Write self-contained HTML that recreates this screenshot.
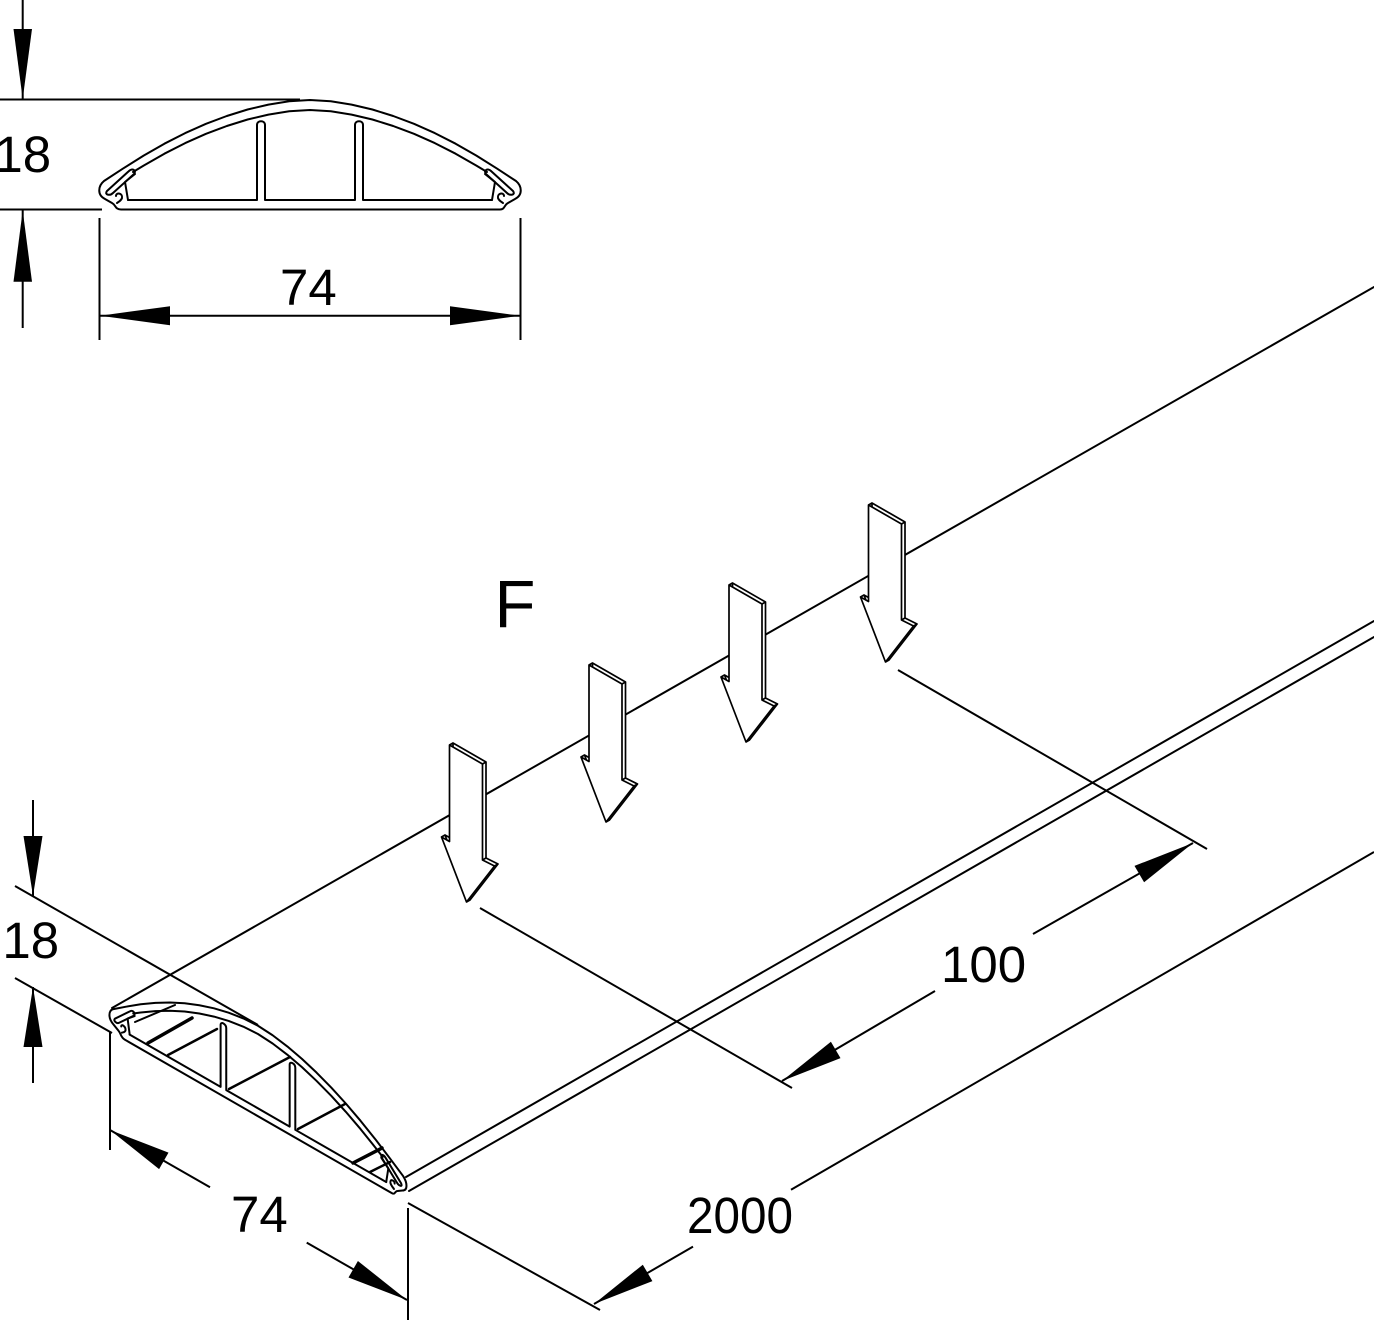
<!DOCTYPE html>
<html>
<head>
<meta charset="utf-8">
<style>
html,body{margin:0;padding:0;background:#fff;width:1374px;height:1320px;overflow:hidden}
svg{display:block}
.iso *{vector-effect:non-scaling-stroke}
text{font-family:"Liberation Sans",Arial,sans-serif;fill:#000}
</style>
</head>
<body>
<svg width="1374" height="1320" viewBox="0 0 1374 1320" xmlns="http://www.w3.org/2000/svg">
<rect width="1374" height="1320" fill="#fff"/>

<!-- ===== TOP PROFILE ===== -->
<g fill="none" stroke="#000" stroke-width="2" stroke-linejoin="round" stroke-linecap="round">
  <path d="M121,209.5 L500,209.5 C505,209.5 504,205 508,203 L515,199 C523,195 522,186 516,181 L497.2,168.7 L476.4,155.6 L455.6,143.7 L434.8,133.1 L414,123.8 L393.2,116 L372.4,109.5 L351.6,104.6 L330.8,101.3 L310,100 L289.2,101.3 L268.4,104.6 L247.6,109.5 L226.8,116 L206,123.8 L185.2,133.1 L164.4,143.7 L143.6,155.6 L122.8,168.7 L104,181 C98,186 97,195 105,199 L112,203 C116,205 115,209.5 121,209.5 Z"/>
  <polyline points="133,172 143.6,165.6 164.4,153.7 185.2,143.1 206,133.8 226.8,126 247.6,119.5 268.4,114.6 289.2,111.3 310,110 330.8,111.3 351.6,114.6 372.4,119.5 393.2,126 414,133.8 434.8,143.1 455.6,153.7 476.4,165.6 487,172"/>
  <path d="M107,191 L129,171 C132,168 137,170 134,174 L113,193 C110,196 104,195 107,191 Z"/>
  <path d="M513,191 L491,171 C488,168 483,170 486,174 L507,193 C510,196 516,195 513,191 Z"/>
  <path d="M116,196 C116,192 123,193 122,198 C121,201 118,202 117,203"/>
  <path d="M504,196 C504,192 497,193 498,198 C499,201 502,202 503,203"/>
  <path d="M135,174 L125,182 L128,200"/>
  <path d="M485,174 L495,182 L492,200"/>
  <path d="M128,200 L257,200 L257,125 C257,120 265,120 265,125 L265,200 L355,200 L355,125 C355,120 363,120 363,125 L363,200 L492,200"/>
</g>

<!-- top dims -->
<g stroke="#000" stroke-width="2" fill="none">
  <line x1="22.7" y1="0" x2="22.7" y2="99"/>
  <line x1="22.7" y1="210" x2="22.7" y2="328"/>
  <line x1="0" y1="99.5" x2="300" y2="99.5"/>
  <line x1="0" y1="209.5" x2="102" y2="209.5"/>
  <line x1="99.5" y1="218" x2="99.5" y2="340"/>
  <line x1="520.5" y1="218" x2="520.5" y2="340"/>
  <line x1="100" y1="315.7" x2="520" y2="315.7"/>
</g>
<g fill="#000">
  <polygon points="22.7,99 13.5,29 32,29"/>
  <polygon points="22.7,210.5 13.5,281.7 32,281.7"/>
  <polygon points="100,315.7 170,306.2 170,325.2"/>
  <polygon points="520,315.7 450,306.2 450,325.2"/>
</g>
<text x="-5.6" y="172" font-size="51">18</text>
<text x="280" y="305" font-size="51">74</text>

<!-- ===== BODY LINES ===== -->
<g stroke="#000" stroke-width="2" fill="none" stroke-linecap="round">
  <line x1="112" y1="1008" x2="1374" y2="287"/>
  <line x1="406" y1="1177" x2="1374" y2="621"/>
  <line x1="409" y1="1191" x2="1374" y2="637"/>
</g>

<!-- ===== ISO PROFILE ===== -->
<g class="iso" transform="matrix(0.7047,0.405,0,0.826,39.5,817.6)" fill="none" stroke="#000" stroke-width="2" stroke-linejoin="round" stroke-linecap="round">
  <path d="M121,209.5 L500,209.5 C505,209.5 504,205 508,203 L515,199 C523,195 522,186 516,181 L497.2,168.7 L476.4,155.6 L455.6,143.7 L434.8,133.1 L414,123.8 L393.2,116 L372.4,109.5 L351.6,104.6 L330.8,101.3 L310,100 L289.2,101.3 L268.4,104.6 L247.6,109.5 L226.8,116 L206,123.8 L185.2,133.1 L164.4,143.7 L143.6,155.6 L122.8,168.7 L104,181 C98,186 97,195 105,199 L112,203 C116,205 115,209.5 121,209.5 Z"/>
  <polyline points="133,172 143.6,165.6 164.4,153.7 185.2,143.1 206,133.8 226.8,126 247.6,119.5 268.4,114.6 289.2,111.3 310,110 330.8,111.3 351.6,114.6 372.4,119.5 393.2,126 414,133.8 434.8,143.1 455.6,153.7 476.4,165.6 487,172"/>
  <path d="M107,191 L129,171 C132,168 137,170 134,174 L113,193 C110,196 104,195 107,191 Z"/>
  <path d="M513,191 L491,171 C488,168 483,170 486,174 L507,193 C510,196 516,195 513,191 Z"/>
  <path d="M116,196 C116,192 123,193 122,198 C121,201 118,202 117,203"/>
  <path d="M504,196 C504,192 497,193 498,198 C499,201 502,202 503,203"/>
  <path d="M135,174 L125,182 L128,200"/>
  <path d="M485,174 L495,182 L492,200"/>
  <path d="M128,200 L257,200 L257,125 C257,120 265,120 265,125 L265,200 L355,200 L355,125 C355,120 363,120 363,125 L363,200 L492,200"/>
</g>
<!-- iso depth lines -->
<g stroke="#000" fill="none" stroke-linecap="round">
  <line x1="148" y1="1043" x2="192" y2="1018" stroke-width="3.5"/>
  <line x1="168" y1="1055" x2="217" y2="1029" stroke-width="2.5"/>
  <line x1="135" y1="1022" x2="175" y2="1005" stroke-width="2"/>
  <line x1="229" y1="1089" x2="290" y2="1057" stroke-width="2.5"/>
  <line x1="298" y1="1129" x2="345" y2="1104" stroke-width="2.5"/>
  <line x1="353" y1="1163" x2="382" y2="1148" stroke-width="3.5"/>
  <line x1="370" y1="1172" x2="390" y2="1162" stroke-width="2.5"/>
</g>

<!-- iso dims -->
<g stroke="#000" stroke-width="2" fill="none">
  <line x1="33" y1="800" x2="33" y2="896"/>
  <line x1="33" y1="987" x2="33" y2="1083"/>
  <line x1="15" y1="886" x2="258" y2="1025"/>
  <line x1="15" y1="978" x2="112" y2="1033"/>
  <line x1="110" y1="1032" x2="110" y2="1150"/>
  <line x1="408" y1="1208" x2="408" y2="1320"/>
  <line x1="110" y1="1130" x2="210" y2="1187.2"/>
  <line x1="306.7" y1="1242.6" x2="407" y2="1300"/>
  <!-- 100 -->
  <line x1="480" y1="908" x2="792" y2="1088"/>
  <line x1="898" y1="670" x2="1207" y2="849"/>
  <line x1="782" y1="1081" x2="935" y2="991"/>
  <line x1="1033" y1="934" x2="1193" y2="843"/>
  <!-- 2000 -->
  <line x1="408" y1="1203" x2="600" y2="1310"/>
  <line x1="594" y1="1304" x2="693" y2="1246.6"/>
  <line x1="791" y1="1189.8" x2="1374" y2="852"/>
</g>
<g fill="#000">
  <polygon points="33,896 23.5,836 42.5,836"/>
  <polygon points="33,987 23.5,1047 42.5,1047"/>
  <polygon points="110,1130 159.1,1169.1 168.5,1152.6"/>
  <polygon points="407,1300 348.5,1277.5 357.9,1261"/>
  <polygon points="782,1081 840.5,1058.1 830.9,1041.7"/>
  <polygon points="1193,843 1144.1,882.3 1134.5,865.9"/>
  <polygon points="594,1304 652.4,1281.1 642.8,1264.7"/>
</g>
<text x="2.4" y="958" font-size="51">18</text>
<text x="231" y="1232" font-size="51">74</text>
<text x="941" y="982" font-size="51">100</text>
<text x="687" y="1233" font-size="51" textLength="106" lengthAdjust="spacingAndGlyphs">2000</text>
<text x="494.5" y="627" font-size="67">F</text>

<!-- ===== FORCE ARROWS ===== -->
<g stroke="#000" stroke-width="1.7" stroke-linejoin="round" fill="#fff">
  <g transform="translate(449.5,745)">
    <path transform="translate(3.5,-2)" d="M0,0 L33,19 L33,115 L45,121 L17,157 L-8,92 L0,96.5 Z"/>
    <path d="M0,0 L33,19 L33,115 L45,121 L17,157 L-8,92 L0,96.5 Z"/>
    <path fill="none" d="M0,0 L3.5,-2 M33,19 L36.5,17 M33,115 L36.5,113 M45,121 L48.5,119 M-8,92 L-4.5,90 M17,157 L20.5,155"/>
  </g>
  <g transform="translate(589,665)">
    <path transform="translate(3.5,-2)" d="M0,0 L33,19 L33,115 L45,121 L17,157 L-8,92 L0,96.5 Z"/>
    <path d="M0,0 L33,19 L33,115 L45,121 L17,157 L-8,92 L0,96.5 Z"/>
    <path fill="none" d="M0,0 L3.5,-2 M33,19 L36.5,17 M33,115 L36.5,113 M45,121 L48.5,119 M-8,92 L-4.5,90 M17,157 L20.5,155"/>
  </g>
  <g transform="translate(729,585)">
    <path transform="translate(3.5,-2)" d="M0,0 L33,19 L33,115 L45,121 L17,157 L-8,92 L0,96.5 Z"/>
    <path d="M0,0 L33,19 L33,115 L45,121 L17,157 L-8,92 L0,96.5 Z"/>
    <path fill="none" d="M0,0 L3.5,-2 M33,19 L36.5,17 M33,115 L36.5,113 M45,121 L48.5,119 M-8,92 L-4.5,90 M17,157 L20.5,155"/>
  </g>
  <g transform="translate(868.5,505)">
    <path transform="translate(3.5,-2)" d="M0,0 L33,19 L33,115 L45,121 L17,157 L-8,92 L0,96.5 Z"/>
    <path d="M0,0 L33,19 L33,115 L45,121 L17,157 L-8,92 L0,96.5 Z"/>
    <path fill="none" d="M0,0 L3.5,-2 M33,19 L36.5,17 M33,115 L36.5,113 M45,121 L48.5,119 M-8,92 L-4.5,90 M17,157 L20.5,155"/>
  </g>
</g>
</svg>
</body>
</html>
